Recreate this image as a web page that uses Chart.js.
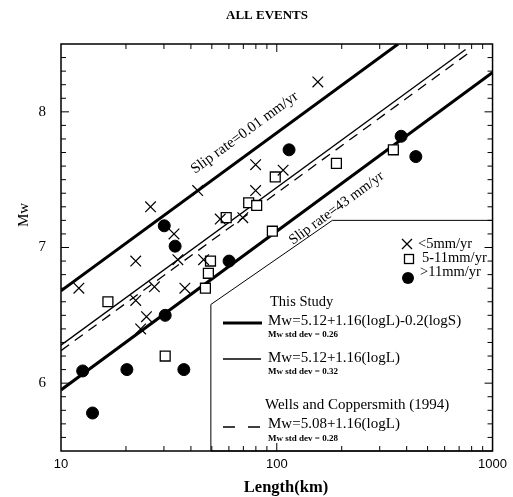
<!DOCTYPE html>
<html>
<head>
<meta charset="utf-8">
<script src="https://cdn.jsdelivr.net/npm/chart.js@4.4.0/dist/chart.umd.min.js"></script>
<style>
  html, body { margin: 0; padding: 0; background: #fff; }
  #wrap { width: 513px; height: 497px; }
</style>
</head>
<body>
<div id="wrap"><canvas id="mwChart" width="513" height="497"></canvas></div>
<script>
// events, slip rate < 5 mm/yr
const slowL  = [12.1, 26.0, 22.2, 33.4, 34.8, 43.0, 45.8, 54.7, 69.6, 79.8, 79.8, 107, 155, 27.1, 37.5, 22.2, 24.9, 23.4];
const slowMw = [6.70, 7.30, 6.90, 7.10, 6.91, 7.42, 6.91, 7.21, 7.22, 7.61, 7.42, 7.57, 8.22, 6.71, 6.70, 6.61, 6.49, 6.40];

// events, slip rate 5-11 mm/yr
const midL  = [16.5, 30.4, 49.3, 48.2, 46.7, 58.3, 74.1, 80.7, 95.4, 98.4, 189, 347];
const midMw = [6.60, 6.20, 6.90, 6.81, 6.70, 7.22, 7.33, 7.31, 7.12, 7.52, 7.62, 7.72];

// events, slip rate > 11 mm/yr
const fastL  = [30.1, 33.8, 114, 60.1, 30.4, 12.6, 20.2, 37.1, 14.0, 377, 441];
const fastMw = [7.16, 7.01, 7.72, 6.90, 6.50, 6.09, 6.10, 6.10, 5.78, 7.82, 7.67];

// regression lines (end points)
const slip001L = [10, 365],  slip001Mw = [6.68, 8.50];
const fitL     = [10, 750],  fitMw     = [6.28, 8.46];
const wcL      = [10, 800],  wcMw      = [6.24, 8.45];
const slip43L  = [10, 1000], slip43Mw  = [5.95, 8.29];

const xTickLabels = [10, 100, 1000];
const yTickLabels = [6, 7, 8];

const pts = (xs, ys) => xs.map((v, i) => ({ x: v, y: ys[i] }));
const SERIF = '"Liberation Serif", "DejaVu Serif", serif';
const SANS = '"Liberation Sans", Arial, sans-serif';

const lineSet = (xs, ys, width, dash) => ({
  data: pts(xs, ys),
  showLine: true,
  borderColor: '#000',
  borderWidth: width,
  borderDash: dash || [],
  pointRadius: 0,
  order: 10
});

// text, label along which line (dataset index), position along line, offset
const slipLabels = [
  { text: 'Slip rate=0.01 mm/yr', ds: 3, at: 80, off: -19, size: 15 },
  { text: 'Slip rate=43 mm/yr', ds: 6, at: 170, off: 17, size: 14.5 }
];

const decorations = {
  id: 'decorations',
  afterDraw(chart) {
    const { ctx, chartArea: a, scales: { x, y } } = chart;
    ctx.save();
    ctx.fillStyle = '#000';
    ctx.strokeStyle = '#000';

    // title + axis titles
    ctx.textAlign = 'center';
    ctx.textBaseline = 'middle';
    ctx.font = 'bold 13px ' + SERIF;
    ctx.fillText('ALL EVENTS', 267, 16);
    ctx.font = 'bold 16.5px ' + SERIF;
    ctx.fillText('Length(km)', 286, 488);
    ctx.save();
    ctx.translate(24, 215);
    ctx.rotate(-Math.PI / 2);
    ctx.font = '15px ' + SERIF;
    ctx.fillText('Mw', 0, 0);
    ctx.restore();

    // slip rate labels along the lines
    slipLabels.forEach(s => {
      const d = chart.getDatasetMeta(s.ds).data;
      const p0 = d[0], p1 = d[1];
      const ang = Math.atan2(p1.y - p0.y, p1.x - p0.x);
      const ax = x.getPixelForValue(s.at);
      const t = (ax - p0.x) / (p1.x - p0.x);
      const ay = p0.y + t * (p1.y - p0.y);
      ctx.save();
      ctx.translate(ax, ay);
      ctx.rotate(ang);
      ctx.font = s.size + 'px ' + SERIF;
      ctx.fillText(s.text, 0, s.off);
      ctx.restore();
    });

    // legend box with cut corner
    const bx0 = x.getPixelForValue(49.5), by0 = y.getPixelForValue(6.58);
    const bx1 = x.getPixelForValue(181), by1 = y.getPixelForValue(7.20);
    ctx.beginPath();
    ctx.moveTo(bx0, a.bottom);
    ctx.lineTo(bx0, by0);
    ctx.lineTo(bx1, by1);
    ctx.lineTo(a.right, by1);
    ctx.lineTo(a.right, a.bottom);
    ctx.closePath();
    ctx.fillStyle = '#fff';
    ctx.fill();
    ctx.lineWidth = 1;
    ctx.stroke();
    ctx.fillStyle = '#000';

    // marker legend
    ctx.lineWidth = 1.3;
    ctx.beginPath();
    ctx.moveTo(402, 239); ctx.lineTo(412, 249);
    ctx.moveTo(412, 239); ctx.lineTo(402, 249);
    ctx.stroke();
    ctx.fillStyle = '#fff';
    ctx.fillRect(404.5, 254.5, 9, 9);
    ctx.strokeRect(404.5, 254.5, 9, 9);
    ctx.fillStyle = '#000';
    ctx.beginPath();
    ctx.arc(408, 278, 6, 0, Math.PI * 2);
    ctx.fill();
    ctx.textAlign = 'left';
    ctx.font = '14.5px ' + SERIF;
    ctx.fillText('<5mm/yr', 418, 244);
    ctx.fillText('5-11mm/yr', 422, 258);
    ctx.fillText('>11mm/yr', 420, 272);

    // line legend
    ctx.font = '14.5px ' + SERIF;
    ctx.fillText('This Study', 270, 302);
    ctx.font = '15px ' + SERIF;
    ctx.fillText('Mw=5.12+1.16(logL)-0.2(logS)', 268, 321);
    ctx.fillText('Mw=5.12+1.16(logL)', 268, 358);
    ctx.fillText('Wells and Coppersmith (1994)', 265, 405);
    ctx.fillText('Mw=5.08+1.16(logL)', 268, 424);
    ctx.font = 'bold 9px ' + SERIF;
    ctx.fillText('Mw std dev = 0.26', 268, 335);
    ctx.fillText('Mw std dev = 0.32', 268, 372);
    ctx.fillText('Mw std dev = 0.28', 268, 439);

    ctx.lineWidth = 3;
    ctx.beginPath(); ctx.moveTo(223, 323); ctx.lineTo(262, 323); ctx.stroke();
    ctx.lineWidth = 1.3;
    ctx.beginPath(); ctx.moveTo(223, 359); ctx.lineTo(261, 359); ctx.stroke();
    ctx.setLineDash([12, 13]);
    ctx.beginPath(); ctx.moveTo(223, 427); ctx.lineTo(261, 427); ctx.stroke();
    ctx.setLineDash([]);

    // frame
    ctx.lineWidth = 1.5;
    ctx.strokeRect(a.left, a.top, a.right - a.left, a.bottom - a.top);

    // inward tick marks
    ctx.lineWidth = 1;
    ctx.beginPath();
    [10, 100].forEach(d => {
      for (let k = 1; k <= 9; k++) {
        const v = d * k;
        if (v === 10) continue;
        const px = x.getPixelForValue(v);
        const len = k === 1 ? 8 : 5;
        ctx.moveTo(px, a.bottom); ctx.lineTo(px, a.bottom - len);
        ctx.moveTo(px, a.top); ctx.lineTo(px, a.top + len);
      }
    });
    for (let i = 56; i <= 84; i++) {
      const py = y.getPixelForValue(i / 10);
      const len = i % 10 === 0 ? 8 : 5;
      ctx.moveTo(a.left, py); ctx.lineTo(a.left + len, py);
      ctx.moveTo(a.right, py); ctx.lineTo(a.right - len, py);
    }
    ctx.stroke();
    ctx.restore();
  }
};

new Chart(document.getElementById('mwChart'), {
  type: 'scatter',
  data: {
    datasets: [
      { data: pts(slowL, slowMw), pointStyle: 'crossRot', pointRadius: 7.5, borderColor: '#000', borderWidth: 1.2, order: 1 },
      { data: pts(midL, midMw), pointStyle: 'rect', pointRadius: 7, backgroundColor: '#fff', borderColor: '#000', borderWidth: 1.3, order: 1 },
      { data: pts(fastL, fastMw), pointStyle: 'circle', pointRadius: 6, backgroundColor: '#000', borderColor: '#000', borderWidth: 1, order: 1 },
      lineSet(slip001L, slip001Mw, 3),
      lineSet(fitL, fitMw, 1.3),
      lineSet(wcL, wcMw, 1.3, [10, 7]),
      lineSet(slip43L, slip43Mw, 3)
    ]
  },
  options: {
    responsive: false,
    animation: false,
    events: [],
    layout: { padding: { top: 44, right: 13, left: 0, bottom: 0 } },
    plugins: { legend: { display: false }, tooltip: { enabled: false } },
    scales: {
      x: {
        type: 'logarithmic',
        min: 10,
        max: 1000,
        grid: { display: false, drawTicks: false },
        border: { display: false },
        afterFit(scale) { scale.height = 46; },
        ticks: {
          autoSkip: false,
          maxRotation: 0,
          padding: 6,
          color: '#000',
          font: { family: SANS, size: 13 },
          callback: v => xTickLabels.includes(v) ? String(v) : ''
        }
      },
      y: {
        min: 5.5,
        max: 8.5,
        grid: { display: false, drawTicks: false },
        border: { display: false },
        afterFit(scale) { scale.width = 61; },
        ticks: {
          stepSize: 0.5,
          padding: 15,
          color: '#000',
          font: { family: SERIF, size: 15 },
          callback: v => yTickLabels.includes(v) ? String(v) : ''
        }
      }
    }
  },
  plugins: [decorations]
});
</script>
</body>
</html>
